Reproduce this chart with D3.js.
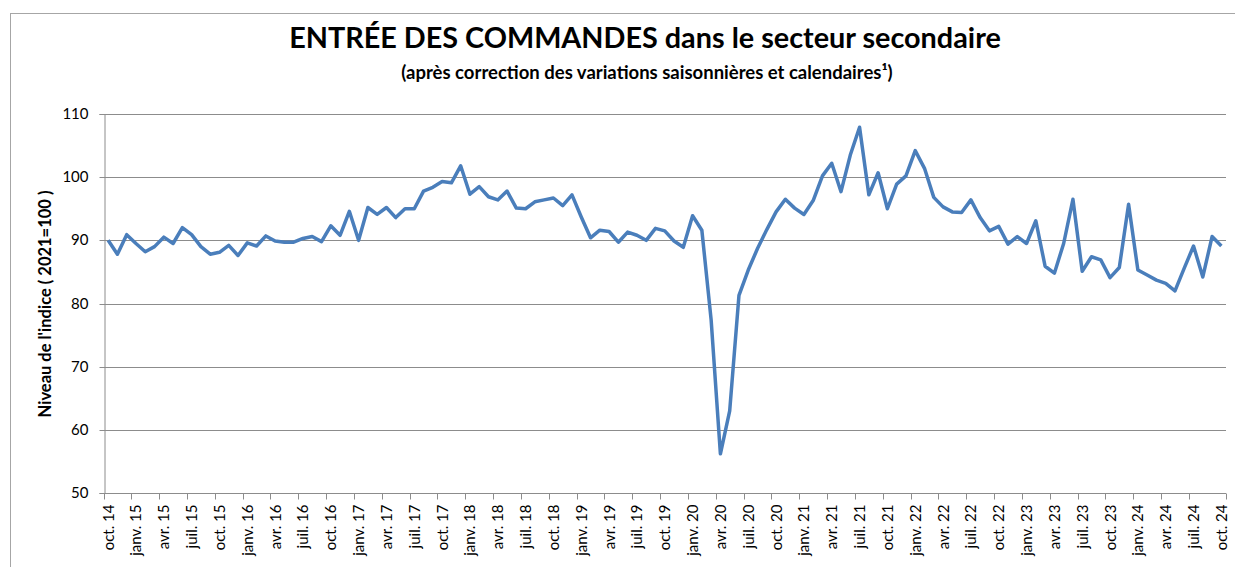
<!DOCTYPE html>
<meta charset="utf-8">
<style>
body { margin: 0; background: #fff; }
text { font-family: Lato, "Open Sans", sans-serif; }
.grid line { stroke: #8c8c8c; stroke-width: 1; }
.axis path, .axis line { stroke: #8c8c8c; }
.axis text { fill: #000; font-size: 15px; }
</style>
<body>
<script src="https://d3js.org/d3.v7.min.js"></script>
<script>

// monthly categories, oct. 2014 to oct. 2024
var months = [
  "oct. 14","nov. 14","déc. 14",
  "janv. 15","févr. 15","mars 15","avr. 15","mai 15","juin 15","juil. 15","août 15","sept. 15","oct. 15","nov. 15","déc. 15",
  "janv. 16","févr. 16","mars 16","avr. 16","mai 16","juin 16","juil. 16","août 16","sept. 16","oct. 16","nov. 16","déc. 16",
  "janv. 17","févr. 17","mars 17","avr. 17","mai 17","juin 17","juil. 17","août 17","sept. 17","oct. 17","nov. 17","déc. 17",
  "janv. 18","févr. 18","mars 18","avr. 18","mai 18","juin 18","juil. 18","août 18","sept. 18","oct. 18","nov. 18","déc. 18",
  "janv. 19","févr. 19","mars 19","avr. 19","mai 19","juin 19","juil. 19","août 19","sept. 19","oct. 19","nov. 19","déc. 19",
  "janv. 20","févr. 20","mars 20","avr. 20","mai 20","juin 20","juil. 20","août 20","sept. 20","oct. 20","nov. 20","déc. 20",
  "janv. 21","févr. 21","mars 21","avr. 21","mai 21","juin 21","juil. 21","août 21","sept. 21","oct. 21","nov. 21","déc. 21",
  "janv. 22","févr. 22","mars 22","avr. 22","mai 22","juin 22","juil. 22","août 22","sept. 22","oct. 22","nov. 22","déc. 22",
  "janv. 23","févr. 23","mars 23","avr. 23","mai 23","juin 23","juil. 23","août 23","sept. 23","oct. 23","nov. 23","déc. 23",
  "janv. 24","févr. 24","mars 24","avr. 24","mai 24","juin 24","juil. 24","août 24","sept. 24","oct. 24"
];

// index level (2021=100)
var indexValues = [
  90.0, 87.8, 90.9,
  89.5, 88.2, 89.0, 90.5, 89.5, 92.0, 90.9, 89.0, 87.8, 88.1, 89.2, 87.6,
  89.6, 89.1, 90.7, 89.9, 89.7, 89.7, 90.3, 90.6, 89.8, 92.3, 90.8, 94.6,
  90.0, 95.2, 94.1, 95.2, 93.6, 95.0, 95.0, 97.8, 98.4, 99.3, 99.1, 101.8,
  97.3, 98.5, 96.9, 96.4, 97.8, 95.1, 95.0, 96.1, 96.4, 96.7, 95.5, 97.2,
  93.7, 90.4, 91.6, 91.4, 89.7, 91.3, 90.8, 90.0, 91.9, 91.5, 89.9, 88.9,
  93.9, 91.6, 77.4, 56.2, 63.0, 81.3, 85.3, 88.7, 91.7, 94.5, 96.5, 95.1,
  94.1, 96.3, 100.2, 102.2, 97.7, 103.5, 107.9, 97.2, 100.7, 95.0, 98.9, 100.2,
  104.2, 101.4, 96.8, 95.3, 94.5, 94.4, 96.4, 93.6, 91.5, 92.2, 89.4, 90.6,
  89.5, 93.1, 85.9, 84.8, 89.5, 96.5, 85.1, 87.4, 86.9, 84.1, 85.7, 95.7,
  85.3, 84.5, 83.7, 83.2, 82.0, 85.6, 89.1, 84.2, 90.6, 89.1
];

var yTicks = [50, 60, 70, 80, 90, 100, 110];

var title = "ENTRÉE DES COMMANDES dans le secteur secondaire";
var subtitle = "(après correction des variations saisonnières et calendaires¹)";
var yTitle = "Niveau de l'indice ( 2021=100 )";

var W = 1235, H = 567;
var margin = {top: 114, right: 9, bottom: 74, left: 103.5};

var svg = d3.select("body").append("svg")
    .attr("width", W)
    .attr("height", H);

// chart frame (cut off on the right and bottom)
svg.append("rect")
    .attr("x", 10.5).attr("y", 13.5)
    .attr("width", W + 20).attr("height", H + 20)
    .attr("fill", "none")
    .attr("stroke", "#a6a6a6");

var x = d3.scaleBand()
    .domain(months)
    .range([margin.left, W - margin.right])
    .padding(0);

var y = d3.scaleLinear()
    .domain([50, 110])
    .range([H - margin.bottom, margin.top]);

// horizontal gridlines
svg.append("g").attr("class", "grid")
  .selectAll("line")
    .data(yTicks.slice(1))
  .enter().append("line")
    .attr("x1", margin.left).attr("x2", W - margin.right)
    .attr("y1", function(d) { return Math.round(y(d)) + 0.5; })
    .attr("y2", function(d) { return Math.round(y(d)) + 0.5; });

// y axis
var yAxis = svg.append("g")
    .attr("class", "axis")
    .attr("transform", "translate(" + (Math.round(margin.left) + 0.5) + ",0)")
    .call(d3.axisLeft(y).tickValues(yTicks).tickSize(5).tickPadding(11));
yAxis.selectAll(".tick").attr("transform", function(d) {
  return "translate(0," + (Math.round(y(d)) + 0.5) + ")";
});

// x axis: ticks on category boundaries every 3 months, plus the axis end
var x0 = Math.round(H - margin.bottom) + 0.5;
var xAxis = svg.append("g").attr("class", "axis");
xAxis.append("line")
    .attr("x1", margin.left).attr("x2", W - margin.right)
    .attr("y1", x0).attr("y2", x0);

var tickCats = months.filter(function(d, i) { return i % 3 === 0 && i < months.length - 2; });
var tickPos = tickCats.map(function(d) { return x(d); }).concat([W - margin.right]);
xAxis.selectAll(".xt")
    .data(tickPos)
  .enter().append("line")
    .attr("class", "xt")
    .attr("x1", function(d) { return Math.round(d) + 0.5; })
    .attr("x2", function(d) { return Math.round(d) + 0.5; })
    .attr("y1", x0).attr("y2", x0 + 6);

var labelCats = months.filter(function(d, i) { return i % 3 === 0; });
xAxis.selectAll(".xl")
    .data(labelCats)
  .enter().append("text")
    .attr("class", "xl")
    .attr("transform", function(d) {
      return "translate(" + (x(d) + x.bandwidth() / 2 + 5.5) + "," + (x0 + 11) + ") rotate(-90)";
    })
    .attr("text-anchor", "end")
    .text(function(d) { return d; });

// data line
var line = d3.line()
    .x(function(d, i) { return x(months[i]) + x.bandwidth() / 2; })
    .y(function(d) { return y(d); });

svg.append("path")
    .datum(indexValues)
    .attr("fill", "none")
    .attr("stroke", "#4a7ebb")
    .attr("stroke-width", 3.5)
    .attr("stroke-linejoin", "round")
    .attr("d", line);

// titles
svg.append("text")
    .attr("x", 645).attr("y", 48)
    .attr("text-anchor", "middle")
    .style("font-size", "28.8px").style("font-weight", "bold")
    .text(title);

svg.append("text")
    .attr("x", 647).attr("y", 79)
    .attr("text-anchor", "middle")
    .style("font-size", "18.5px").style("font-weight", "bold")
    .text(subtitle);

svg.append("text")
    .attr("transform", "translate(51,304) rotate(-90)")
    .attr("text-anchor", "middle")
    .style("font-size", "16.5px").style("font-weight", "bold")
    .text(yTitle);

</script>
</body>
